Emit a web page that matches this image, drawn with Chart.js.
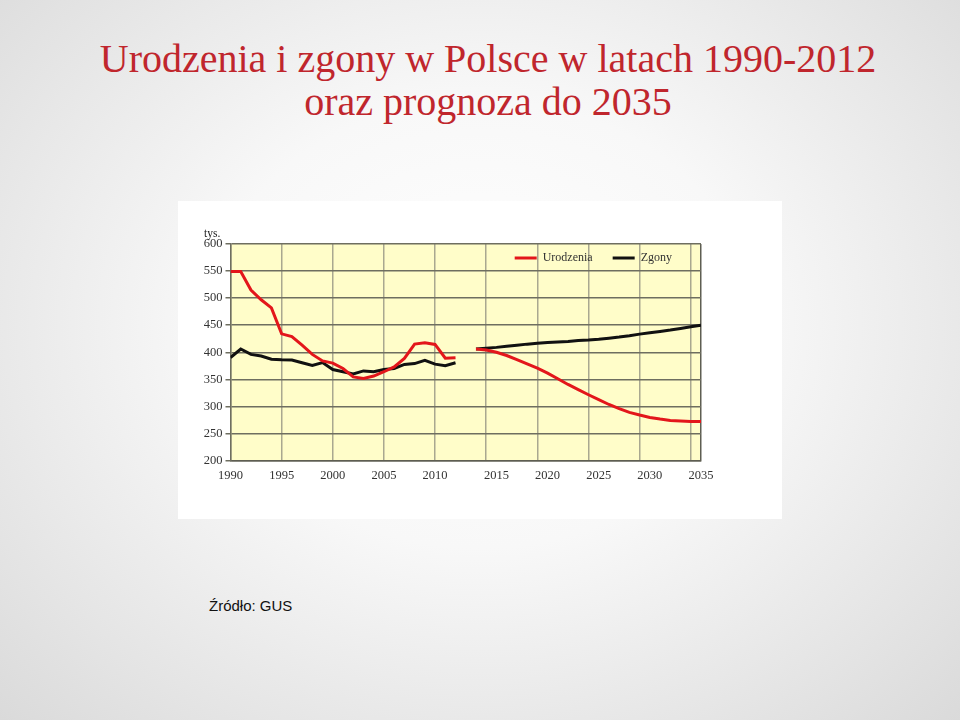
<!DOCTYPE html>
<html lang="pl">
<head>
<meta charset="utf-8">
<title>Urodzenia i zgony w Polsce</title>
<script src="https://cdn.jsdelivr.net/npm/chart.js"></script>
<style>
  html, body { margin: 0; padding: 0; }
  body {
    width: 960px; height: 720px; position: relative; overflow: hidden;
    background: radial-gradient(ellipse at 50% 45%, #ffffff 0%, #f8f8f8 40%, #dadada 100%);
  }
  #title {
    position: absolute; left: 8px; top: 37px; width: 960px;
    text-align: center; color: #c0262d;
    font-family: "Liberation Serif", serif; font-size: 40px; line-height: 43px;
  }
  #box {
    position: absolute; left: 178px; top: 201px; width: 604px; height: 318px;
    background: #ffffff;
  }
  #unit {
    position: absolute; left: 26px; top: 26px;
    font-family: "Liberation Serif", serif; font-size: 11.5px; color: #222;
  }
  #source {
    position: absolute; left: 209px; top: 597px;
    font-family: "Liberation Sans", sans-serif; font-size: 15px; color: #111;
  }
</style>
</head>
<body>
<div id="title">Urodzenia i zgony w Polsce w latach 1990-2012<br>oraz prognoza do 2035</div>
<div id="box">
  <canvas id="chart"></canvas>
  <span id="unit">tys.</span>
</div>
<div id="source">Źródło: GUS</div>
<script>
// lata obserwowane i prognoza (tys. osób)
const yearsHist = [1990, 1991, 1992, 1993, 1994, 1995, 1996, 1997, 1998, 1999, 2000, 2001,
                   2002, 2003, 2004, 2005, 2006, 2007, 2008, 2009, 2010, 2011, 2012];
const birthsHist = [549, 549, 515, 497, 482, 434, 429, 413, 396, 384, 380, 370,
                    354.5, 351.5, 356, 364, 373, 388.5, 415, 417.5, 414.5, 389, 390];
const deathsHist = [390, 406, 396, 393, 387, 386, 385.5, 380.5, 375.5, 381, 368, 364,
                    360, 365.5, 364, 368, 370, 377.5, 379, 385, 378, 375, 380.5];

const yearsForecast = [2013, 2014, 2015, 2016, 2017, 2018, 2019, 2020, 2021, 2022, 2023, 2024,
                       2025, 2026, 2027, 2028, 2029, 2030, 2031, 2032, 2033, 2034, 2035];
const birthsForecast = [406, 404, 400, 394, 386.5, 378.5, 370.5, 361.5, 351, 340.5, 331, 321.5,
                        312.5, 303.5, 296, 289, 284, 279.5, 276.5, 274, 273, 272, 272];
const deathsForecast = [406, 407.5, 409, 411, 413, 415, 416.5, 418, 419, 420, 421.5, 422.5,
                        424, 426, 428, 430.5, 433.5, 436, 438.5, 441, 444, 447, 450];

const xTickYears = [1990, 1995, 2000, 2005, 2010, 2015, 2020, 2025, 2030, 2035];
const yTicks = [200, 250, 300, 350, 400, 450, 500, 550, 600];

// the source chart leaves one empty year between the data and the forecast
const LAST_HIST = 2012;
function pos(year) { return year > LAST_HIST ? year + 1 : year; }
function yearAt(p) { return p > LAST_HIST + 1 ? p - 1 : p; }

function series(hist, forecast) {
    const pts = yearsHist.map((y, i) => ({ x: pos(y), y: hist[i] }));
    pts.push({ x: LAST_HIST + 1, y: null });
    yearsForecast.forEach((y, i) => pts.push({ x: pos(y), y: forecast[i] }));
    return pts;
}

const plotBg = {
    id: 'plotBg',
    beforeDraw(chart) {
        const a = chart.chartArea;
        const c = chart.ctx;
        c.save();
        c.fillStyle = '#fffdc9';
        c.fillRect(a.left, a.top, a.right - a.left, a.bottom - a.top);
        c.restore();
    }
};

// keep the legend inside the plot, top right, without taking layout space
const legendInside = {
    id: 'legendInside',
    beforeLayout(chart) {
        const lg = chart.legend;
        if (lg && !lg._inside) {
            const fit = lg.fit;
            lg.fit = function() { fit.call(this); this.height = 0; };
            lg._inside = true;
        }
    },
    afterLayout(chart) {
        const lg = chart.legend;
        if (!lg) return;
        lg.top = chart.chartArea.top - 12;
        lg.bottom = chart.chartArea.top + 40;
        lg.height = lg.bottom - lg.top;
        lg.right = chart.chartArea.right - 9;
    }
};

const serif = { family: 'Liberation Serif, serif', size: 12.5 };
const X_MIN = 1990, X_MAX = 2036;

new Chart(document.getElementById('chart'), {
    type: 'line',
    data: {
        datasets: [{
            label: 'Urodzenia',
            data: series(birthsHist, birthsForecast),
            borderColor: '#e3161b',
            backgroundColor: '#e3161b',
            borderWidth: 3,
            pointRadius: 0,
            tension: 0,
            spanGaps: false
        }, {
            label: 'Zgony',
            data: series(deathsHist, deathsForecast),
            borderColor: '#111111',
            backgroundColor: '#111111',
            borderWidth: 3,
            pointRadius: 0,
            tension: 0,
            spanGaps: false
        }]
    },
    options: {
        responsive: true,
        maintainAspectRatio: false,
        animation: false,
        layout: { padding: { top: 43, right: 81, left: 0, bottom: 0 } },
        plugins: {
            legend: {
                position: 'top',
                align: 'end',
                labels: {
                    usePointStyle: true,
                    pointStyle: 'line',
                    pointStyleWidth: 22,
                    font: { family: 'Liberation Serif, serif', size: 12 },
                    color: '#333',
                    padding: 20
                }
            },
            tooltip: { enabled: false }
        },
        scales: {
            x: {
                type: 'linear',
                min: X_MIN,
                max: X_MAX,
                afterBuildTicks: function(scale) {
                    scale.ticks = xTickYears.map(y => ({ value: y })).concat([{ value: X_MAX }]);
                },
                afterFit: function(scale) { scale.height = 0; },
                ticks: { display: false },
                grid: {
                    drawTicks: false,
                    lineWidth: 1.5,
                    color: ctx => ctx.tick && ctx.tick.value === X_MAX ? '#5e5e52' : '#a9a890'
                },
                border: { display: true, color: '#5e5e52', width: 1.5 }
            },
            xl: {
                type: 'linear',
                position: 'bottom',
                min: X_MIN,
                max: X_MAX,
                // forecast labels sit one year to the right of their grid lines, as in the source
                afterBuildTicks: function(scale) {
                    scale.ticks = xTickYears.map(y => ({ value: y > 2010 ? y + 1 : y }));
                },
                afterFit: function(scale) { scale.height = 58.5; },
                ticks: {
                    autoSkip: false,
                    maxRotation: 0,
                    padding: 0,
                    color: '#333',
                    font: serif,
                    callback: v => String(yearAt(v))
                },
                grid: { display: false },
                border: { display: false }
            },
            y: {
                min: 200,
                max: 600,
                afterBuildTicks: function(scale) {
                    scale.ticks = yTicks.map(v => ({ value: v }));
                },
                afterFit: function(scale) { scale.width = 52.5; },
                ticks: { color: '#333', font: serif, padding: 3 },
                grid: { color: '#6e6e60', lineWidth: 1.5, tickLength: 5 },
                border: { display: true, color: '#6e6e60', width: 1.5 }
            }
        }
    },
    plugins: [plotBg, legendInside]
});
</script>
</body>
</html>
